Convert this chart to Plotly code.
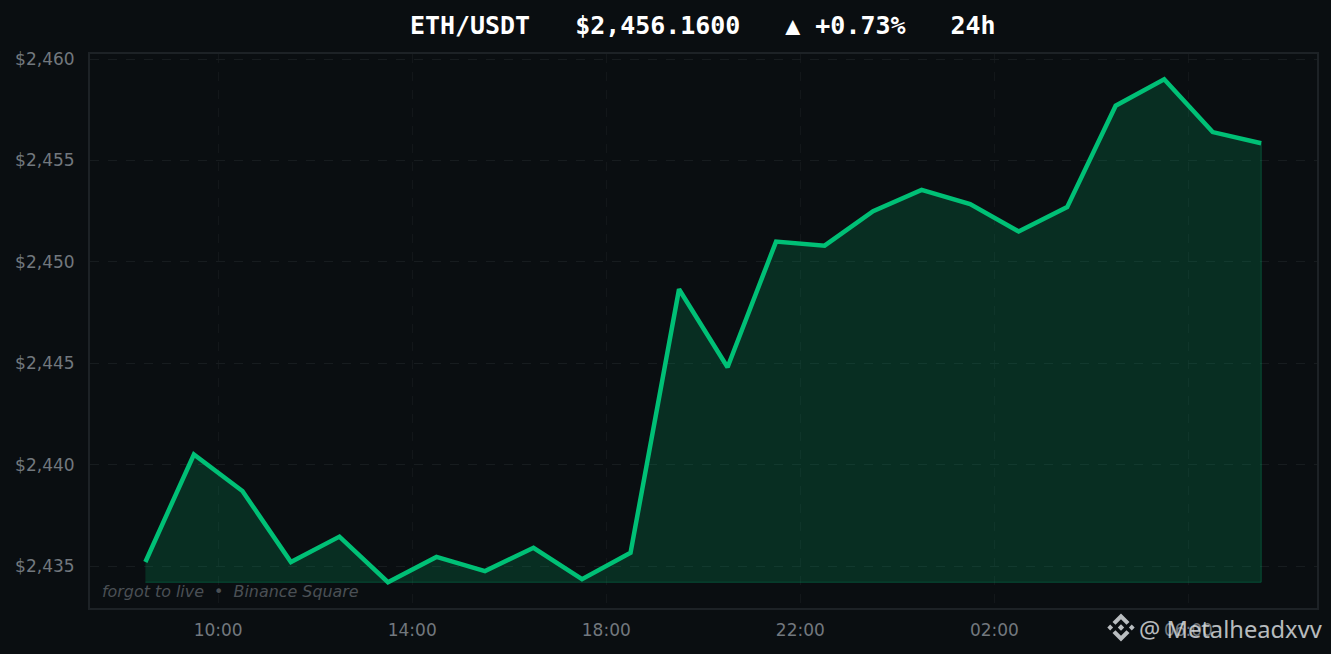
import plotly.graph_objects as go

times = ["2024-01-01 08:30","2024-01-01 09:30","2024-01-01 10:30","2024-01-01 11:30","2024-01-01 12:30","2024-01-01 13:30",
         "2024-01-01 14:30","2024-01-01 15:30","2024-01-01 16:30","2024-01-01 17:30","2024-01-01 18:30","2024-01-01 19:30",
         "2024-01-01 20:30","2024-01-01 21:30","2024-01-01 22:30","2024-01-01 23:30","2024-01-02 00:30","2024-01-02 01:30",
         "2024-01-02 02:30","2024-01-02 03:30","2024-01-02 04:30","2024-01-02 05:30","2024-01-02 06:30","2024-01-02 07:30"]
prices = [2435.2,2440.5,2438.7,2435.2,2436.45,2434.2,2435.45,2434.75,2435.9,2434.35,2435.65,2448.65,
          2444.8,2451.0,2450.8,2452.5,2453.55,2452.85,2451.5,2452.7,2457.7,2459.0,2456.4,2455.85]
tick_times = ["2024-01-01 10:00","2024-01-01 14:00","2024-01-01 18:00","2024-01-01 22:00","2024-01-02 02:00","2024-01-02 06:00"]
tick_labels = ["10:00","14:00","18:00","22:00","02:00","06:00"]
price_ticks = [2435,2440,2445,2450,2455,2460]
price_labels = ["$2,435","$2,440","$2,445","$2,450","$2,455","$2,460"]
title = "ETH/USDT\u00a0\u00a0\u00a0$2,456.1600\u00a0\u00a0\u00a0▲ +0.73%\u00a0\u00a0\u00a024h"

BG = "#0a0e11"
GREEN = "#00c076"
base = min(prices)
W, H = 1331, 654
L, R, T, B = 90, 14, 54, 46

# Binance logo outline, in pixels relative to its centre
LOGO_CENTRE = (1121, 627.5)
LOGO_PARTS = [
    [(0,-14),(8.5,-5.5),(5.5,-2.8),(0,-8.2),(-5.5,-2.8),(-8.5,-5.5)],
    [(0,14),(8.5,5.5),(5.5,2.8),(0,8.2),(-5.5,2.8),(-8.5,5.5)],
    [(0,-3.2),(3.2,0),(0,3.2),(-3.2,0)],
    [(-10.8,-2.9),(-7.9,0),(-10.8,2.9),(-13.7,0)],
    [(10.8,-2.9),(13.7,0),(10.8,2.9),(7.9,0)],
]

def logo_path(part):
    pts = []
    for dx, dy in part:
        px = (LOGO_CENTRE[0] + dx - L) / (W - L - R)
        py = (H - B - LOGO_CENTRE[1] - dy) / (H - T - B)
        pts.append(f"{px:.5f},{py:.5f}")
    return "M" + " L".join(pts) + " Z"

fig = go.Figure()
fig.add_trace(go.Scatter(x=times+[times[-1],times[0]], y=prices+[base,base], mode="lines", fill="toself",
                         fillcolor="rgba(0,192,118,0.18)", line=dict(color="rgba(0,192,118,0.3)", width=1),
                         hoverinfo="skip", showlegend=False))
fig.add_trace(go.Scatter(x=times, y=prices, mode="lines", line=dict(color=GREEN, width=4.5), showlegend=False))

axis_common = dict(showgrid=True, griddash="dash", gridwidth=1, zeroline=False,
                   showline=True, linecolor="#1d2226", linewidth=2, mirror=True, ticks="",
                   tickfont=dict(family="DejaVu Sans", size=17, color="#72787e"))
fig.update_layout(
    width=W, height=H, autosize=False,
    paper_bgcolor=BG, plot_bgcolor=BG,
    margin=dict(l=L, r=R, t=T, b=B),
    title=dict(text=title, x=0.528, xanchor="center", y=0.961, yanchor="middle",
               font=dict(family="DejaVu Sans Mono", size=24.95, color="#ffffff", weight="bold")),
    xaxis=dict(axis_common, type="date", range=["2024-01-01 07:21:30","2024-01-02 08:39:00"],
               tickvals=tick_times, ticktext=tick_labels, gridcolor="#13171a", ticklabelstandoff=6),
    yaxis=dict(axis_common, range=[2432.93,2460.25], tickvals=price_ticks, ticktext=price_labels,
               gridcolor="#171c1f", ticklabelstandoff=10),
    annotations=[
        dict(text="forgot to live\u00a0\u00a0•\u00a0\u00a0Binance Square", xref="paper", yref="paper", x=0.0079, y=0.0097,
             xanchor="left", yanchor="bottom", showarrow=False,
             font=dict(family="DejaVu Sans", size=15.9, color="#4a5055", style="italic")),
        dict(text="@ Metalheadxvv", xref="paper", yref="paper", x=1.0066, y=-0.0375,
             xanchor="right", yanchor="middle", showarrow=False,
             font=dict(family="Noto Sans", size=23.7, color="rgba(225,228,230,0.82)")),
    ],
    shapes=[dict(type="path", xref="paper", yref="paper", path=logo_path(p), layer="above",
                 fillcolor="rgba(225,228,230,0.82)", line=dict(width=0)) for p in LOGO_PARTS],
)
fig.write_html("out.html", config={"displayModeBar": False},
               post_script="document.body.style.margin='0';document.body.style.background='%s';document.body.style.overflow='hidden';" % BG)
